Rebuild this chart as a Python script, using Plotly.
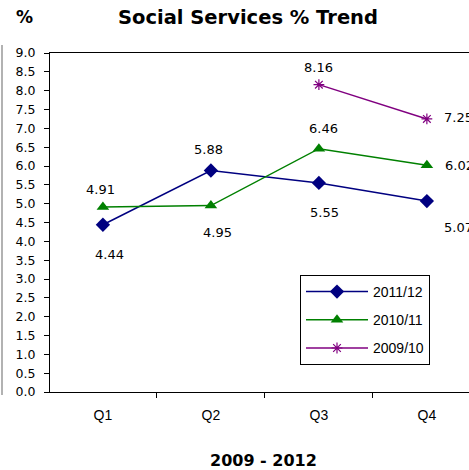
import plotly.graph_objects as go

quarters = ["Q1", "Q2", "Q3", "Q4"]
s2011 = [4.44, 5.88, 5.55, 5.07]
s2010 = [4.91, 4.95, 6.46, 6.02]
s2009 = [None, None, 8.16, 7.25]
y_ticks = [i * 0.5 for i in range(19)]

L, T, H_PLOT, W_PLOT = 50, 53, 339, 419

def px(xp):
    return (xp - L) / W_PLOT

def py(yp):
    return 1 - (yp - T) / H_PLOT

fig = go.Figure()
fig.add_trace(go.Scatter(x=quarters, y=s2011, name="2011/12", mode="lines+markers", legendgroup="a",
                         line=dict(color="#000080", width=1.5),
                         marker=dict(symbol="diamond", size=11, color="#000080")))
fig.add_trace(go.Scatter(x=quarters, y=s2010, name="2010/11", mode="lines+markers", legendgroup="b",
                         line=dict(color="#008000", width=1.5),
                         marker=dict(symbol="triangle-up", size=11, color="#008000")))
fig.add_trace(go.Scatter(x=quarters, y=s2009, name="2009/10", mode="lines+markers", legendgroup="c",
                         line=dict(color="#800080", width=1.5),
                         marker=dict(symbol="asterisk-open", size=9, line=dict(color="#800080", width=1.2))))

# label offsets (x shift, y shift, anchor) per series/point
offs2011 = [(7, -30, "center"), (-2, 21, "center"), (6, -30, "center"), (15, -26, "left")]
offs2010 = [(-2, 18, "center"), (7, -27, "center"), (5, 20, "center"), (16, 0, "left")]
offs2009 = [None, None, (0, 17, "center"), (15, 1, "left")]

def add_labels(vals, offs):
    for q, v, o in zip(quarters, vals, offs):
        if v is None:
            continue
        fig.add_annotation(x=q, y=v, xref="x", yref="y", text=f"{v:.2f}", showarrow=False,
                           xshift=o[0], yshift=o[1], xanchor=o[2],
                           font=dict(family="DejaVu Sans", size=13, color="#000"))

add_labels(s2011, offs2011)
add_labels(s2010, offs2010)
add_labels(s2009, offs2009)

fig.add_annotation(text="<b>Social Services % Trend</b>", xref="paper", yref="paper",
                   x=px(248), y=py(17), showarrow=False, xanchor="center", yanchor="middle",
                   font=dict(family="DejaVu Sans", size=19.5, color="#000"))
fig.add_annotation(text="<b>%</b>", xref="paper", yref="paper",
                   x=px(24), y=py(17), showarrow=False, xanchor="center", yanchor="middle",
                   font=dict(family="DejaVu Sans", size=17, color="#000"))
fig.add_annotation(text="<b>2009 - 2012</b>", xref="paper", yref="paper",
                   x=px(263), y=py(460), showarrow=False, xanchor="center", yanchor="middle",
                   font=dict(family="DejaVu Sans", size=16, color="#000"))

fig.add_shape(type="line", xref="paper", yref="paper",
              x0=px(2), x1=px(2), y0=py(395), y1=py(45),
              line=dict(color="#999", width=1.5))

fig.update_layout(
    width=469, height=470,
    margin=dict(l=L, r=0, t=T, b=470 - T - H_PLOT),
    plot_bgcolor="white", paper_bgcolor="white",
    font=dict(family="Liberation Sans, Arial", color="#000"),
    showlegend=True,
    legend=dict(x=px(300), y=py(275), xanchor="left", yanchor="top",
                bordercolor="#000", borderwidth=1, bgcolor="white",
                font=dict(size=14), tracegroupgap=7, itemwidth=62),
    xaxis=dict(type="category", range=[-0.49, 3.39], showline=True, linecolor="#000", linewidth=1,
               mirror=True, ticks="outside", ticklen=5, tickson="boundaries", tickcolor="#000",
               showgrid=False, tickfont=dict(size=14), zeroline=False, ticklabelstandoff=10),
    yaxis=dict(range=[0, 9], tickvals=y_ticks, ticktext=[f"{v:.1f}" for v in y_ticks],
               showline=True, linecolor="#000", linewidth=1, ticks="outside", ticklen=5,
               tickcolor="#000", showgrid=False, zeroline=False, ticklabelstandoff=6,
               tickfont=dict(family="DejaVu Sans", size=12.5)),
)

fig.write_html("out.html", config={"displayModeBar": False},
               post_script="document.body.style.margin='0';document.body.style.overflow='hidden';")
